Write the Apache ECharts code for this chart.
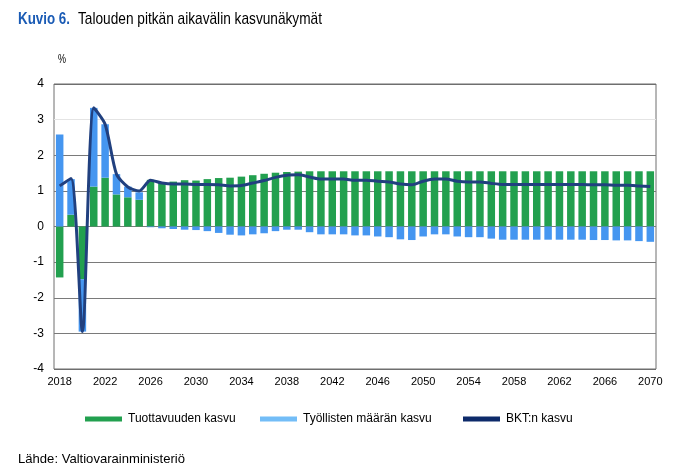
<!DOCTYPE html>
<html>
<head>
<meta charset="utf-8">
<script src="https://cdn.jsdelivr.net/npm/echarts@6/dist/echarts.min.js"></script>
<style>
html,body{margin:0;padding:0;background:#fff;}
#c{width:680px;height:472px;}
</style>
</head>
<body>
<div id="c"></div>
<script>
const years = [];
for (let y = 2018; y <= 2070; y++) years.push(String(y));

const productivity = [
  -1.43, 0.33, -1.48, 1.12, 1.37, 0.90, 0.82, 0.75, 1.31, 1.24,
  1.26, 1.30, 1.29, 1.33, 1.36, 1.37, 1.40, 1.44, 1.48, 1.51,
  1.53, 1.54, 1.55, 1.55, 1.55, 1.55, 1.55, 1.55, 1.55, 1.55,
  1.55, 1.55, 1.55, 1.55, 1.55, 1.55, 1.55, 1.55, 1.55, 1.55,
  1.55, 1.55, 1.55, 1.55, 1.55, 1.55, 1.55, 1.55, 1.55, 1.55,
  1.55, 1.55, 1.55
];
const employment = [
  2.58, 1.00, -1.47, 2.21, 1.50, 0.57, 0.30, 0.21, -0.02, -0.05,
  -0.07, -0.09, -0.10, -0.13, -0.18, -0.23, -0.25, -0.22, -0.19, -0.13,
  -0.09, -0.09, -0.16, -0.22, -0.22, -0.22, -0.25, -0.25, -0.28, -0.30,
  -0.36, -0.38, -0.28, -0.22, -0.22, -0.28, -0.30, -0.30, -0.34, -0.37,
  -0.37, -0.37, -0.37, -0.37, -0.37, -0.37, -0.37, -0.38, -0.38, -0.39,
  -0.39, -0.41, -0.43
];
const gdp = [
  1.14, 1.35, -2.95, 3.33, 2.87, 1.47, 1.11, 1.00, 1.30, 1.22,
  1.19, 1.19, 1.18, 1.18, 1.17, 1.14, 1.15, 1.22, 1.29, 1.38,
  1.44, 1.45, 1.39, 1.33, 1.33, 1.33, 1.30, 1.30, 1.27, 1.25,
  1.19, 1.17, 1.27, 1.33, 1.33, 1.27, 1.25, 1.25, 1.21, 1.18,
  1.18, 1.18, 1.18, 1.18, 1.18, 1.18, 1.18, 1.17, 1.17, 1.16,
  1.16, 1.14, 1.12
];
const seriesNames = ['Tuottavuuden kasvu', 'Työllisten määrän kasvu', 'BKT:n kasvu'];
const titleLabel = 'Kuvio 6.';
const titleText = 'Talouden pitkän aikavälin kasvunäkymät';
const sourceText = 'Lähde: Valtiovarainministeriö';

const FONT = "'Liberation Sans', Arial, sans-serif";
const cGreen = '#22a04f', cBlue = '#4596f0', cNavy = '#21407f';

const mctx = document.createElement('canvas').getContext('2d');
function fitScale(text, font, target) {
  mctx.font = font;
  return target / mctx.measureText(text).width;
}
function fittedText(text, font, x, y, width, fill) {
  const s = fitScale(text, font, width);
  return {type: 'text', x: x, y: y, scaleX: s, z: 10,
    style: {text: text, font: font, fill: fill, align: 'left', verticalAlign: 'top',
            textAlign: 'left', textVerticalAlign: 'top'}};
}

const chart = echarts.init(document.getElementById('c'), null, {renderer: 'canvas'});
const legendBase = {
  top: 408, icon: 'rect', itemWidth: 37, itemHeight: 5, itemGap: 0,
  textStyle: {fontFamily: FONT, fontSize: 12, color: '#000', padding: [0, 0, 0, 1]},
  selectedMode: false
};
chart.setOption({
  animation: false,
  backgroundColor: '#fff',
  grid: {left: 54, right: 24, top: 84, bottom: 103, show: true,
         borderColor: '#6e6e6e', borderWidth: 1, containLabel: false},
  graphic: [
    fittedText(titleLabel, "bold 17px " + FONT, 18, 11, 52, '#1a5bb5'),
    fittedText(titleText, "17px " + FONT, 78, 11, 244, '#000'),
    fittedText('%', "12px " + FONT, 58, 54, 8, '#000'),
    fittedText(sourceText, "13px " + FONT, 18, 453, 167, '#000')
  ],
  legend: [
    Object.assign({}, legendBase, {left: 80, data: [{name: seriesNames[0], itemStyle: {color: cGreen}}]}),
    Object.assign({}, legendBase, {left: 255, data: [{name: seriesNames[1], itemStyle: {color: '#73bdf7'}}]}),
    Object.assign({}, legendBase, {left: 458, data: [{name: seriesNames[2], icon: 'rect', itemStyle: {color: '#0d2a6a'}, lineStyle: {opacity: 0}}]})
  ],
  xAxis: {
    type: 'category', data: years, boundaryGap: true,
    axisLine: {show: false}, axisTick: {show: false},
    axisLabel: {interval: 3, fontFamily: FONT, fontSize: 11, color: '#000', margin: 7},
    splitLine: {show: false}
  },
  yAxis: {
    type: 'value', min: -4, max: 4, interval: 1,
    axisLine: {show: false}, axisTick: {show: false},
    axisLabel: {fontFamily: FONT, fontSize: 12, color: '#000', margin: 10},
    splitLine: {show: true, lineStyle: {width: 1,
      color: ['#6e6e6e', '#7a7a7a', '#7a7a7a', '#7a7a7a', '#7a7a7a', '#7a7a7a', '#7a7a7a', '#e4e4e4', '#6e6e6e']}}
  },
  series: [
    {name: seriesNames[0], type: 'bar', stack: 's', data: productivity, barWidth: '66%',
     itemStyle: {color: cGreen}},
    {name: seriesNames[1], type: 'bar', stack: 's', data: employment, barWidth: '66%',
     itemStyle: {color: cBlue}},
    {name: seriesNames[2], type: 'line', data: gdp, smooth: 0.25, showSymbol: false, symbol: 'none',
     lineStyle: {color: cNavy, width: 3}, itemStyle: {color: cNavy}, z: 5}
  ]
});
</script>
</body>
</html>
